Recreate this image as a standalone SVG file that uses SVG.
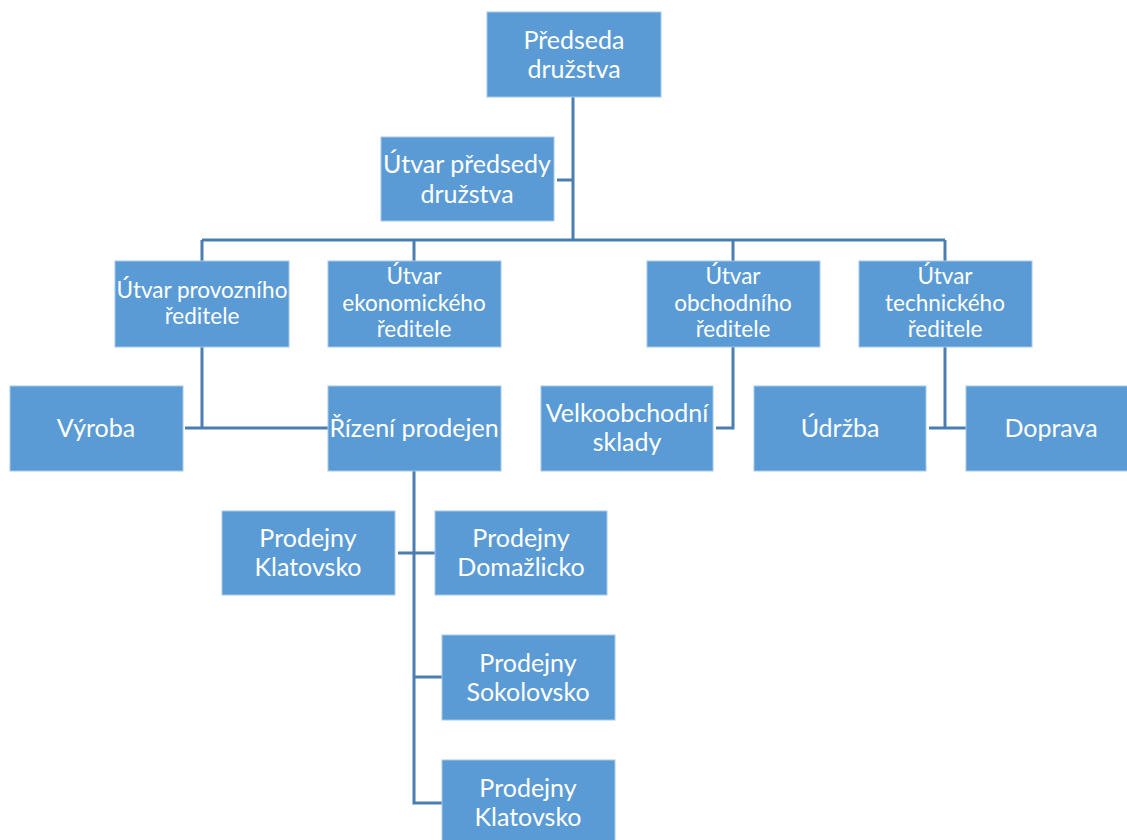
<svg xmlns="http://www.w3.org/2000/svg" width="1127" height="840" viewBox="0 0 1127 840">
<style>
.box{fill:#5b9bd5;stroke:#a6c8e9;stroke-width:1}
.t{fill:#ffffff;font-family:"Lato","Liberation Sans",sans-serif;font-size:25px;text-anchor:middle}
.s{font-size:22.5px}
.c{fill:none;stroke:#4a7eb0;stroke-width:3}
</style>
<rect width="1127" height="840" fill="#ffffff"/>
<g id="connectors">
<path class="c" d="M573,97 V240 M557,180 H573 M202,240 H945 M202,240 V261 M414,240 V261 M733,240 V261 M945,240 V261"/>
<path class="c" d="M202,347 V428 M185,428 H328"/>
<path class="c" d="M733,347 V428 H716"/>
<path class="c" d="M945,347 V428 M929,428 H966"/>
<path class="c" d="M414,471 V803 H442 M398,553 H435 M414,677 H442"/>
</g>
<g id="n1"><rect class="box" x="487" y="12" width="174" height="85"/><text class="t" x="574" y="49">Předseda</text><text class="t" x="574" y="78">družstva</text></g>
<g id="n2"><rect class="box" x="381" y="137" width="173" height="84"/><text class="t" x="467" y="173">Útvar předsedy</text><text class="t" x="467" y="203">družstva</text></g>
<g id="n3"><rect class="box" x="115" y="261" width="174" height="86"/><text class="t s" x="202" y="298">Útvar provozního</text><text class="t s" x="202" y="324">ředitele</text></g>
<g id="n4"><rect class="box" x="328" y="261" width="173" height="86"/><text class="t s" x="414" y="284">Útvar</text><text class="t s" x="414" y="311">ekonomického</text><text class="t s" x="414" y="337">ředitele</text></g>
<g id="n5"><rect class="box" x="647" y="261" width="173" height="86"/><text class="t s" x="733" y="284">Útvar</text><text class="t s" x="733" y="311">obchodního</text><text class="t s" x="733" y="337">ředitele</text></g>
<g id="n6"><rect class="box" x="859" y="261" width="173" height="86"/><text class="t s" x="945" y="284">Útvar</text><text class="t s" x="945" y="311">technického</text><text class="t s" x="945" y="337">ředitele</text></g>
<g id="n7"><rect class="box" x="10" y="386" width="173" height="85"/><text class="t" x="96" y="437">Výroba</text></g>
<g id="n8"><rect class="box" x="328" y="386" width="173" height="85"/><text class="t" x="414" y="437">Řízení prodejen</text></g>
<g id="n9"><rect class="box" x="541" y="386" width="172" height="85"/><text class="t" x="627" y="422">Velkoobchodní</text><text class="t" x="627" y="451">sklady</text></g>
<g id="n10"><rect class="box" x="754" y="386" width="172" height="85"/><text class="t" x="840" y="437">Údržba</text></g>
<g id="n11"><rect class="box" x="966" y="386" width="174" height="85"/><text class="t" x="1051" y="437">Doprava</text></g>
<g id="n12"><rect class="box" x="222" y="511" width="173" height="84"/><text class="t" x="308" y="547">Prodejny</text><text class="t" x="308" y="576">Klatovsko</text></g>
<g id="n13"><rect class="box" x="435" y="511" width="172" height="84"/><text class="t" x="521" y="547">Prodejny</text><text class="t" x="521" y="576">Domažlicko</text></g>
<g id="n14"><rect class="box" x="442" y="635" width="173" height="85"/><text class="t" x="528" y="672">Prodejny</text><text class="t" x="528" y="701">Sokolovsko</text></g>
<g id="n15"><rect class="box" x="442" y="760" width="173" height="85"/><text class="t" x="528" y="797">Prodejny</text><text class="t" x="528" y="826">Klatovsko</text></g>
</svg>
